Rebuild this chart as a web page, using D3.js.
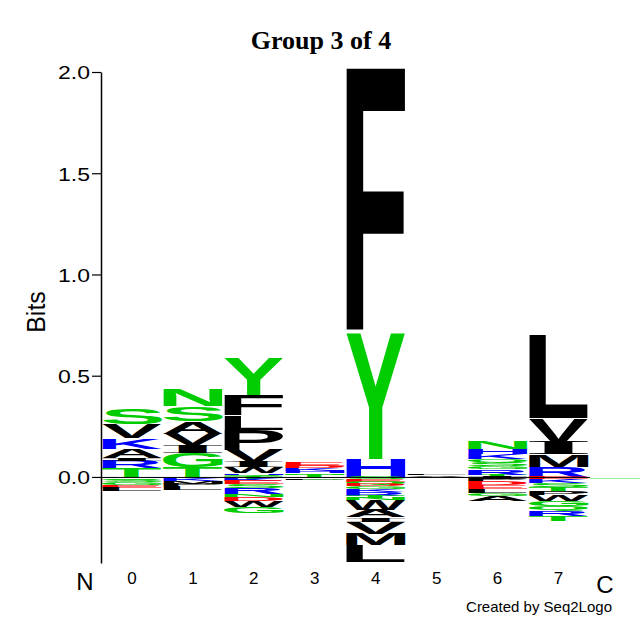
<!DOCTYPE html>
<html>
<head>
<meta charset="utf-8">
<script src="https://cdn.jsdelivr.net/npm/d3@7"></script>
<style>
  body { margin: 0; background: #fff; }
  svg { display: block; }
</style>
</head>
<body>
<script>
// Positions of the motif
const positions = [0, 1, 2, 3, 4, 5, 6, 7];

// Letters above zero, bottom -> top, [residue, bits]
const posStacks = [
  [["T", 0.045], ["R", 0.035], ["I", 0.015], ["A", 0.045], ["K", 0.05], ["V", 0.07], ["S", 0.075]],
  [["T", 0.05], ["G", 0.07], ["I", 0.04], ["V", 0.054], ["A", 0.06], ["S", 0.074], ["N", 0.084]],
  [["Q", 0.01], ["H", 0.008], ["W", 0.03], ["I", 0.025], ["V", 0.06], ["P", 0.1], ["L", 0.07], ["F", 0.1], ["Y", 0.185]],
  [["T", 0.01], ["N", 0.008], ["H", 0.012], ["K", 0.012], ["D", 0.012], ["E", 0.018]],
  [["H", 0.09], ["Y", 0.62], ["F", 1.31]],
  [["V", 0.008], ["L", 0.006]],
  [["T", 0.012], ["R", 0.025], ["G", 0.015], ["S", 0.02], ["Q", 0.015], ["K", 0.025], ["H", 0.025], ["N", 0.04]],
  [["R", 0.05], ["M", 0.06], ["I", 0.06], ["V", 0.12], ["L", 0.41]]
];

// Letters below zero, top -> bottom, [residue, bits]
const negStacks = [
  [["H", 0.006], ["Q", 0.01], ["S", 0.01], ["G", 0.015], ["E", 0.012], ["L", 0.015]],
  [["G", 0.006], ["K", 0.012], ["M", 0.015], ["P", 0.012], ["L", 0.02]],
  [["T", 0.01], ["K", 0.01], ["E", 0.015], ["S", 0.02], ["R", 0.03], ["N", 0.012], ["D", 0.02], ["W", 0.03], ["G", 0.03]],
  [["V", 0.005], ["G", 0.008], ["L", 0.004]],
  [["S", 0.012], ["E", 0.012], ["Q", 0.012], ["D", 0.01], ["G", 0.012], ["K", 0.015], ["R", 0.02], ["T", 0.012], ["N", 0.01],
   ["W", 0.05], ["A", 0.035], ["I", 0.022], ["V", 0.058], ["M", 0.056], ["L", 0.084]],
  [["A", 0.004]],
  [["I", 0.01], ["P", 0.012], ["D", 0.018], ["E", 0.02], ["L", 0.02], ["G", 0.015], ["A", 0.025]],
  [["E", 0.012], ["K", 0.018], ["S", 0.02], ["T", 0.02], ["P", 0.02], ["W", 0.03], ["G", 0.025], ["Q", 0.025], ["R", 0.025], ["T", 0.022]]
];

const majorTicks = [0, 0.5, 1.0, 1.5, 2.0];
const minorTicks = d3.range(-4, 21).map(i => i / 10);

// residue groups -> colour
const acidic = "DE", basic = "HKR", hydrophobic = "ACFILMPVW";
function residueColor(r) {
  if (acidic.includes(r)) return "#ff0000";
  if (basic.includes(r)) return "#0000ff";
  if (hydrophobic.includes(r)) return "#000000";
  return "#00cc00";
}

const width = 640, height = 640;
const svg = d3.select("body").append("svg").attr("width", width).attr("height", height);

const x = d3.scaleBand().domain(positions).range([101.5, 589]).paddingInner(0.02).paddingOuter(0.01);
const y = d3.scaleLinear().domain([-0.425, 2.0]).range([563, 72]);

// ink box of a glyph, measured on a canvas
const ctx = document.createElement("canvas").getContext("2d");
const sansFont = "'Liberation Sans', Arial, Helvetica, sans-serif";
const serifFont = "'Liberation Serif', 'Times New Roman', serif";
function inkBox(ch, family) {
  ctx.font = "bold 100px " + family;
  const m = ctx.measureText(ch);
  return { l: m.actualBoundingBoxLeft, r: m.actualBoundingBoxRight, a: m.actualBoundingBoxAscent, d: m.actualBoundingBoxDescent };
}

const logo = svg.append("g");
function drawLetter(ch, x0, yTop, w, h) {
  if (h <= 0.3) {
    logo.append("rect").attr("x", x0).attr("y", yTop).attr("width", w).attr("height", Math.max(h, 0.4))
      .attr("fill", residueColor(ch)).attr("opacity", 0.6);
    return;
  }
  const family = ch === "I" ? serifFont : sansFont;
  const b = inkBox(ch, family);
  const sx = w / (b.l + b.r), sy = h / (b.a + b.d);
  logo.append("text")
    .attr("transform", `translate(${x0},${yTop}) scale(${sx},${sy}) translate(${b.l},${b.a})`)
    .style("font-family", family)
    .style("font-weight", "bold")
    .style("font-size", "100px")
    .attr("fill", residueColor(ch))
    .text(ch);
}

positions.forEach((p, i) => {
  const x0 = x(p), w = x.bandwidth();
  let acc = 0;
  posStacks[i].forEach(([ch, v]) => {
    const yTop = y(acc + v), yBot = y(acc);
    drawLetter(ch, x0, yTop, w, yBot - yTop);
    acc += v;
  });
  acc = 0;
  negStacks[i].forEach(([ch, v]) => {
    const yTop = y(-acc), yBot = y(-acc - v);
    drawLetter(ch, x0, yTop, w, yBot - yTop);
    acc += v;
  });
});

// zero line
svg.append("line").attr("x1", 101).attr("x2", 590).attr("y1", y(0) + 0.5).attr("y2", y(0) + 0.5)
  .attr("stroke", "#000").attr("stroke-width", 1);
svg.append("line").attr("x1", 590).attr("x2", 640).attr("y1", y(0) + 1.5).attr("y2", y(0) + 1.5)
  .attr("stroke", "#99ee99").attr("stroke-width", 1);

// y axis
const axisG = svg.append("g").attr("transform", "translate(101,0)");
axisG.call(d3.axisLeft(y).tickValues(minorTicks).tickSize(6).tickSizeOuter(0).tickFormat(""));
axisG.call(d3.axisLeft(y).tickValues(majorTicks).tickSize(9).tickSizeOuter(0).tickFormat(d3.format(".1f")));
axisG.selectAll("path.domain").attr("stroke-width", 1.5);
axisG.selectAll("line").attr("stroke", "#000").attr("stroke-width", 1.2);
axisG.selectAll("text")
  .style("font-family", sansFont).style("font-size", "19px").attr("fill", "#000")
  .attr("x", -11).attr("dy", "0.36em")
  .attr("textLength", 32).attr("lengthAdjust", "spacingAndGlyphs");

// position labels
svg.append("g").selectAll("text").data(positions).join("text")
  .attr("x", d => x(d) + x.bandwidth() / 2)
  .attr("y", 584)
  .attr("text-anchor", "middle")
  .style("font-family", sansFont).style("font-size", "17px")
  .text(d => d);

svg.append("text").attr("x", 85).attr("y", 590).attr("text-anchor", "middle")
  .style("font-family", sansFont).style("font-size", "24px").text("N");
svg.append("text").attr("x", 605).attr("y", 593).attr("text-anchor", "middle")
  .style("font-family", sansFont).style("font-size", "24px").text("C");

svg.append("text").attr("x", 612).attr("y", 612).attr("text-anchor", "end")
  .style("font-family", sansFont).style("font-size", "15px").text("Created by Seq2Logo");

// y label
svg.append("text")
  .attr("transform", "translate(45,312) rotate(-90)")
  .attr("text-anchor", "middle")
  .style("font-family", sansFont).style("font-size", "25px")
  .text("Bits");

// title
svg.append("text").attr("x", 321).attr("y", 49).attr("text-anchor", "middle")
  .style("font-family", serifFont).style("font-weight", "bold").style("font-size", "26px")
  .text("Group 3 of 4");
</script>
</body>
</html>
